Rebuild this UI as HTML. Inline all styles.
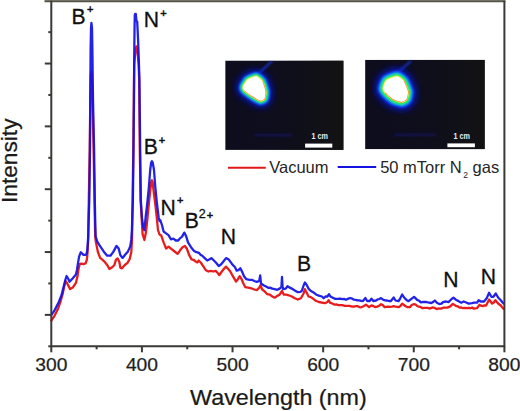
<!DOCTYPE html>
<html><head><meta charset="utf-8"><style>
html,body{margin:0;padding:0;background:#fff;}
svg{display:block;font-family:"Liberation Sans",sans-serif;}
</style></head><body>
<svg width="520" height="411" viewBox="0 0 520 411">
<rect width="520" height="411" fill="#fff"/>
<defs>
<filter id="bl4" x="-50%" y="-50%" width="200%" height="200%"><feGaussianBlur stdDeviation="3.5"/></filter>
<filter id="bl2" x="-50%" y="-50%" width="200%" height="200%"><feGaussianBlur stdDeviation="1.6"/></filter>
<filter id="bl1" x="-50%" y="-50%" width="200%" height="200%"><feGaussianBlur stdDeviation="0.8"/></filter>
<filter id="bl05" x="-50%" y="-50%" width="200%" height="200%"><feGaussianBlur stdDeviation="0.5"/></filter>
<linearGradient id="bgg" x1="0" x2="1" y1="0" y2="0"><stop offset="0" stop-color="#0c0c20" stop-opacity="0"/><stop offset="0.5" stop-color="#111118" stop-opacity="0.3"/><stop offset="1" stop-color="#131313" stop-opacity="1"/></linearGradient>
<clipPath id="c1"><rect x="225.2" y="60.5" width="118.4" height="89.4"/></clipPath>
<clipPath id="c2"><rect x="365.1" y="59.8" width="119.7" height="89.5"/></clipPath>
</defs>
<g clip-path="url(#c1)">
<rect x="225.2" y="60.5" width="118.4" height="89.4" fill="#0d0d1d"/>
<rect x="225.2" y="60.5" width="118.4" height="89.4" fill="url(#bgg)"/>
<rect x="254" y="134.0" width="38" height="2.4" fill="#1c1ca0" filter="url(#bl1)" opacity="0.4"/>
<line x1="257" y1="75" x2="272" y2="61" stroke="#2040ff" stroke-width="2" filter="url(#bl1)" opacity="0.75"/>
<path d="M256.4,76.6 C257.7,76.8 261.5,80.3 262.3,81.6 C263.1,82.9 265.3,89.8 265.5,91.4 C265.7,93.0 265.0,98.0 264.5,98.8 C264.0,99.6 261.4,100.8 260.3,100.6 C259.2,100.4 253.9,97.1 252.5,96.2 C251.1,95.3 245.3,91.3 244.5,90.4 C243.7,89.5 243.2,87.5 243.5,86.5 C243.8,85.5 246.5,80.8 247.7,79.9 C248.9,79.0 255.1,76.4 256.4,76.6Z" fill="#0818e0" stroke="#0818e0" stroke-width="14.0" stroke-linejoin="round" filter="url(#bl4)" opacity="0.8"/>
<path d="M256.4,76.6 C257.7,76.8 261.5,80.3 262.3,81.6 C263.1,82.9 265.3,89.8 265.5,91.4 C265.7,93.0 265.0,98.0 264.5,98.8 C264.0,99.6 261.4,100.8 260.3,100.6 C259.2,100.4 253.9,97.1 252.5,96.2 C251.1,95.3 245.3,91.3 244.5,90.4 C243.7,89.5 243.2,87.5 243.5,86.5 C243.8,85.5 246.5,80.8 247.7,79.9 C248.9,79.0 255.1,76.4 256.4,76.6Z" fill="#1040ff" stroke="#1040ff" stroke-width="9.5" stroke-linejoin="round" filter="url(#bl1)"/>
<path d="M256.4,76.6 C257.7,76.8 261.5,80.3 262.3,81.6 C263.1,82.9 265.3,89.8 265.5,91.4 C265.7,93.0 265.0,98.0 264.5,98.8 C264.0,99.6 261.4,100.8 260.3,100.6 C259.2,100.4 253.9,97.1 252.5,96.2 C251.1,95.3 245.3,91.3 244.5,90.4 C243.7,89.5 243.2,87.5 243.5,86.5 C243.8,85.5 246.5,80.8 247.7,79.9 C248.9,79.0 255.1,76.4 256.4,76.6Z" fill="#10c8e8" stroke="#10c8e8" stroke-width="6.5" stroke-linejoin="round" filter="url(#bl1)"/>
<path d="M256.4,76.6 C257.7,76.8 261.5,80.3 262.3,81.6 C263.1,82.9 265.3,89.8 265.5,91.4 C265.7,93.0 265.0,98.0 264.5,98.8 C264.0,99.6 261.4,100.8 260.3,100.6 C259.2,100.4 253.9,97.1 252.5,96.2 C251.1,95.3 245.3,91.3 244.5,90.4 C243.7,89.5 243.2,87.5 243.5,86.5 C243.8,85.5 246.5,80.8 247.7,79.9 C248.9,79.0 255.1,76.4 256.4,76.6Z" fill="#38f040" stroke="#38f040" stroke-width="4.2" stroke-linejoin="round" filter="url(#bl1)"/>
<path d="M256.4,76.6 C257.7,76.8 261.5,80.3 262.3,81.6 C263.1,82.9 265.3,89.8 265.5,91.4 C265.7,93.0 265.0,98.0 264.5,98.8 C264.0,99.6 261.4,100.8 260.3,100.6 C259.2,100.4 253.9,97.1 252.5,96.2 C251.1,95.3 245.3,91.3 244.5,90.4 C243.7,89.5 243.2,87.5 243.5,86.5 C243.8,85.5 246.5,80.8 247.7,79.9 C248.9,79.0 255.1,76.4 256.4,76.6Z" fill="#e8f060" stroke="#e8f060" stroke-width="2.2" stroke-linejoin="round" filter="url(#bl05)"/>
<path d="M262.3,81.6 L265.5,91.4 L264.5,98.8 L260.3,100.6 L252.5,96.2 L244.5,90.4" fill="none" stroke="#f07020" stroke-width="1.6" stroke-linejoin="round" filter="url(#bl05)" opacity="0.9"/>
<path d="M256.4,76.6 C257.7,76.8 261.5,80.3 262.3,81.6 C263.1,82.9 265.3,89.8 265.5,91.4 C265.7,93.0 265.0,98.0 264.5,98.8 C264.0,99.6 261.4,100.8 260.3,100.6 C259.2,100.4 253.9,97.1 252.5,96.2 C251.1,95.3 245.3,91.3 244.5,90.4 C243.7,89.5 243.2,87.5 243.5,86.5 C243.8,85.5 246.5,80.8 247.7,79.9 C248.9,79.0 255.1,76.4 256.4,76.6Z" fill="#ffffff" filter="url(#bl05)"/>
<rect x="305.1" y="143.6" width="27.2" height="4" fill="#fff"/>
<text x="311.4" y="138.70000000000002" font-size="8.6" font-weight="bold" fill="#ececec" textLength="16.4" lengthAdjust="spacingAndGlyphs">1 cm</text>
</g>
<g clip-path="url(#c2)">
<rect x="365.1" y="59.8" width="119.7" height="89.5" fill="#0d0d1d"/>
<rect x="365.1" y="59.8" width="119.7" height="89.5" fill="url(#bgg)"/>
<rect x="394" y="133.60000000000002" width="42" height="2.4" fill="#1c1ca0" filter="url(#bl1)" opacity="0.4"/>
<line x1="396" y1="74" x2="411" y2="61" stroke="#2040ff" stroke-width="2" filter="url(#bl1)" opacity="0.75"/>
<path d="M397.0,76.5 C398.6,76.6 402.7,79.9 403.7,81.3 C404.7,82.7 407.7,89.9 408.0,91.5 C408.3,93.1 407.1,98.4 406.5,99.3 C405.9,100.2 402.8,101.9 401.6,101.9 C400.4,101.9 394.9,100.2 393.4,99.3 C391.9,98.4 386.3,93.4 385.4,92.4 C384.5,91.4 383.3,89.5 383.4,88.4 C383.5,87.3 385.3,81.7 386.5,80.6 C387.7,79.5 395.4,76.4 397.0,76.5Z" fill="#0818e0" stroke="#0818e0" stroke-width="17.5" stroke-linejoin="round" filter="url(#bl4)" opacity="0.8"/>
<path d="M397.0,76.5 C398.6,76.6 402.7,79.9 403.7,81.3 C404.7,82.7 407.7,89.9 408.0,91.5 C408.3,93.1 407.1,98.4 406.5,99.3 C405.9,100.2 402.8,101.9 401.6,101.9 C400.4,101.9 394.9,100.2 393.4,99.3 C391.9,98.4 386.3,93.4 385.4,92.4 C384.5,91.4 383.3,89.5 383.4,88.4 C383.5,87.3 385.3,81.7 386.5,80.6 C387.7,79.5 395.4,76.4 397.0,76.5Z" fill="#1040ff" stroke="#1040ff" stroke-width="11.9" stroke-linejoin="round" filter="url(#bl1)"/>
<path d="M397.0,76.5 C398.6,76.6 402.7,79.9 403.7,81.3 C404.7,82.7 407.7,89.9 408.0,91.5 C408.3,93.1 407.1,98.4 406.5,99.3 C405.9,100.2 402.8,101.9 401.6,101.9 C400.4,101.9 394.9,100.2 393.4,99.3 C391.9,98.4 386.3,93.4 385.4,92.4 C384.5,91.4 383.3,89.5 383.4,88.4 C383.5,87.3 385.3,81.7 386.5,80.6 C387.7,79.5 395.4,76.4 397.0,76.5Z" fill="#10c8e8" stroke="#10c8e8" stroke-width="8.1" stroke-linejoin="round" filter="url(#bl1)"/>
<path d="M397.0,76.5 C398.6,76.6 402.7,79.9 403.7,81.3 C404.7,82.7 407.7,89.9 408.0,91.5 C408.3,93.1 407.1,98.4 406.5,99.3 C405.9,100.2 402.8,101.9 401.6,101.9 C400.4,101.9 394.9,100.2 393.4,99.3 C391.9,98.4 386.3,93.4 385.4,92.4 C384.5,91.4 383.3,89.5 383.4,88.4 C383.5,87.3 385.3,81.7 386.5,80.6 C387.7,79.5 395.4,76.4 397.0,76.5Z" fill="#38f040" stroke="#38f040" stroke-width="5.2" stroke-linejoin="round" filter="url(#bl1)"/>
<path d="M397.0,76.5 C398.6,76.6 402.7,79.9 403.7,81.3 C404.7,82.7 407.7,89.9 408.0,91.5 C408.3,93.1 407.1,98.4 406.5,99.3 C405.9,100.2 402.8,101.9 401.6,101.9 C400.4,101.9 394.9,100.2 393.4,99.3 C391.9,98.4 386.3,93.4 385.4,92.4 C384.5,91.4 383.3,89.5 383.4,88.4 C383.5,87.3 385.3,81.7 386.5,80.6 C387.7,79.5 395.4,76.4 397.0,76.5Z" fill="#e8f060" stroke="#e8f060" stroke-width="2.2" stroke-linejoin="round" filter="url(#bl05)"/>
<path d="M403.7,81.3 L408.0,91.5 L406.5,99.3 L401.6,101.9 L393.4,99.3 L385.4,92.4" fill="none" stroke="#f07020" stroke-width="1.6" stroke-linejoin="round" filter="url(#bl05)" opacity="0.9"/>
<path d="M397.0,76.5 C398.6,76.6 402.7,79.9 403.7,81.3 C404.7,82.7 407.7,89.9 408.0,91.5 C408.3,93.1 407.1,98.4 406.5,99.3 C405.9,100.2 402.8,101.9 401.6,101.9 C400.4,101.9 394.9,100.2 393.4,99.3 C391.9,98.4 386.3,93.4 385.4,92.4 C384.5,91.4 383.3,89.5 383.4,88.4 C383.5,87.3 385.3,81.7 386.5,80.6 C387.7,79.5 395.4,76.4 397.0,76.5Z" fill="#ffffff" filter="url(#bl05)"/>
<rect x="447.4" y="143.4" width="27.5" height="3.8" fill="#fff"/>
<text x="453.4" y="138.70000000000002" font-size="8.6" font-weight="bold" fill="#ececec" textLength="16.4" lengthAdjust="spacingAndGlyphs">1 cm</text>
</g>
<polyline points="51.3,320.6 54.4,316.1 57.7,309.6 60.4,301.9 62.6,294.2 64.2,286.6 65.5,281.2 66.4,282.0 68.5,286.0 70.1,289.1 73.1,287.2 75.9,282.9 77.5,276.3 78.6,268.6 79.7,264.2 81.3,263.7 83.5,264.2 85.7,263.1 86.8,259.9 87.4,254.4 88.2,240.0 88.8,200.0 89.7,150.0 90.3,100.0 90.8,76.0 91.2,72.0 91.8,76.0 92.6,100.0 93.6,150.0 94.5,200.0 95.2,236.0 95.7,241.0 97.9,251.9 100.1,257.9 102.9,260.1 105.0,262.3 107.2,265.0 109.4,268.9 112.2,267.2 114.4,265.0 116.0,259.6 117.6,258.5 119.3,261.8 120.4,267.8 122.0,268.3 124.8,265.0 127.5,262.9 129.7,259.0 131.3,251.9 132.0,240.0 132.6,200.0 133.3,150.0 133.8,100.0 134.2,65.0 135.3,52.0 136.4,46.5 137.5,52.0 138.7,65.0 139.2,80.0 139.8,150.0 140.6,200.0 142.0,224.3 142.6,234.1 144.4,240.0 146.0,232.0 147.5,218.0 148.8,204.0 150.3,190.0 151.2,182.0 151.9,180.2 152.6,182.0 153.5,190.0 155.3,204.0 156.8,218.0 158.0,230.0 159.5,234.5 161.3,235.6 163.6,242.4 166.1,248.5 168.5,246.6 171.6,249.1 174.6,251.5 177.6,253.9 180.1,250.3 182.5,247.2 184.9,246.0 186.8,248.5 189.2,255.1 191.6,259.4 193.4,259.8 195.3,261.2 197.4,262.4 198.6,260.5 201.1,263.0 203.5,266.6 206.0,270.3 208.4,271.5 210.8,270.9 213.2,271.5 215.7,270.9 217.5,272.7 219.3,275.1 221.8,271.5 224.2,268.5 226.0,266.6 227.8,268.5 230.3,271.5 231.8,274.3 233.6,277.4 236.1,281.6 237.9,279.2 239.7,276.2 241.6,279.2 243.4,283.5 245.2,287.1 248.2,287.7 251.3,288.3 254.3,289.5 256.8,290.1 259.2,287.7 260.4,285.3 262.2,289.5 264.7,291.4 267.1,294.1 269.9,294.7 272.3,296.5 274.7,297.7 277.2,295.9 279.6,294.7 282.0,291.0 283.9,294.7 286.3,294.7 288.7,295.3 291.8,296.5 294.8,298.3 297.8,299.5 300.9,298.3 303.6,293.5 304.9,289.2 306.7,292.8 308.5,296.5 310.9,297.1 313.4,298.9 315.8,300.8 318.9,302.0 321.9,302.6 324.9,303.2 327.4,302.0 328.6,300.1 329.8,302.6 332.8,303.8 334.6,304.6 336.5,304.4 338.2,305.2 340.0,305.2 342.4,305.2 344.7,305.9 346.3,305.9 348.0,305.8 349.6,305.9 351.2,306.3 352.9,306.7 354.5,306.5 356.1,306.1 357.7,306.2 359.3,307.1 361.1,307.3 363.0,306.5 366.0,304.7 369.1,307.1 371.5,305.3 373.2,306.1 375.0,307.1 377.3,306.6 379.1,305.8 381.0,304.2 382.8,305.0 384.6,307.2 386.4,306.8 388.2,306.6 390.0,306.9 391.9,306.6 393.7,306.2 395.5,306.6 398.6,307.2 400.4,306.0 402.2,303.6 405.3,306.0 407.6,307.2 409.9,307.2 411.7,305.0 413.5,304.2 415.4,304.4 417.2,306.0 419.0,306.7 420.8,307.2 422.6,308.1 424.5,307.8 426.1,307.9 427.7,307.9 429.3,308.5 430.9,308.2 432.6,307.4 434.2,307.8 436.6,309.1 438.2,308.5 439.9,308.6 441.5,308.5 443.6,307.6 445.5,307.6 447.3,307.6 450.3,306.4 452.8,303.9 455.8,305.8 457.6,306.3 459.5,307.6 461.3,307.5 463.1,308.2 464.9,307.8 466.8,308.1 468.6,307.9 470.4,308.2 472.1,307.5 473.8,308.7 475.4,308.3 477.1,308.2 479.4,304.8 481.0,305.7 482.7,306.2 484.4,305.4 486.1,305.5 489.1,299.5 492.1,303.5 493.8,302.5 495.4,300.2 498.1,303.5 500.8,305.5 503.5,308.9" fill="none" stroke="#e81c1c" stroke-width="2.3" stroke-linejoin="round" stroke-linecap="round"/>
<polyline points="51.3,315.2 55.0,309.6 58.8,301.9 61.5,295.3 63.7,286.6 65.3,280.0 66.6,276.0 68.2,278.8 69.5,281.8 72.6,278.5 75.9,274.6 77.0,269.7 78.0,263.1 79.1,256.6 80.8,252.2 83.5,254.9 85.5,254.8 86.3,254.4 87.2,251.0 87.7,244.6 88.2,236.0 88.5,225.0 89.3,200.0 90.0,150.0 90.3,100.0 90.6,50.0 91.0,28.0 91.4,23.0 92.0,28.0 92.4,50.0 93.0,100.0 94.1,150.0 94.8,200.0 95.3,225.0 95.7,236.6 97.4,242.0 99.6,245.3 101.8,248.6 104.0,251.9 107.2,255.7 110.5,255.7 113.3,251.9 116.5,245.9 118.7,248.6 120.4,255.2 122.6,257.9 125.3,254.6 128.0,251.4 130.2,246.4 131.3,239.9 131.9,230.0 132.9,200.0 133.5,150.0 134.0,100.0 134.2,60.0 134.4,40.0 134.6,25.0 134.8,15.0 135.1,14.0 135.8,14.0 136.4,20.5 137.2,21.6 137.6,30.0 138.1,40.0 138.8,60.0 139.4,80.0 140.2,150.0 140.8,200.0 142.0,218.2 143.2,226.8 144.4,230.2 145.6,217.7 147.2,204.0 148.9,187.0 150.2,170.0 151.2,162.5 151.9,161.2 152.7,162.5 154.0,170.0 155.3,187.0 157.0,204.0 158.7,217.7 159.6,221.0 160.4,220.3 162.1,225.5 163.6,231.5 166.1,233.4 168.5,235.1 170.9,239.3 173.4,238.7 175.8,240.5 178.2,240.5 180.1,238.1 181.9,236.9 184.3,232.6 186.2,236.3 188.0,242.4 191.0,247.2 194.1,250.9 196.5,252.2 198.9,252.8 200.6,254.9 202.3,255.7 204.7,258.1 207.2,260.5 209.6,259.3 211.4,258.1 213.9,260.5 216.3,263.0 218.7,266.0 221.2,264.2 223.6,261.2 226.0,258.1 228.5,259.3 230.9,262.4 232.4,264.6 234.9,267.0 236.7,270.7 238.5,270.1 240.3,268.2 242.2,271.9 244.0,276.2 246.4,279.2 249.5,279.8 251.9,279.8 254.3,281.0 256.8,281.9 259.2,281.0 260.2,275.5 261.0,283.5 263.5,285.3 266.5,286.8 268.2,287.8 269.9,287.6 272.3,288.6 274.7,289.2 277.2,289.8 279.6,288.6 281.4,287.0 282.0,277.0 282.6,287.0 283.2,289.2 285.7,288.6 287.5,286.2 289.3,287.4 291.8,288.6 294.8,290.4 297.8,292.2 300.4,291.8 301.8,291.0 303.6,285.5 304.9,282.5 306.7,284.9 308.5,288.6 310.9,291.0 314.0,292.8 316.4,294.7 319.5,295.9 321.9,296.5 323.7,298.3 325.5,296.5 327.4,296.5 329.0,294.1 330.4,296.5 332.8,297.7 335.3,298.9 337.7,298.9 340.0,298.6 342.3,299.2 344.1,298.9 345.9,299.8 348.4,298.6 350.2,298.0 352.0,298.6 353.9,299.7 355.7,299.8 357.5,300.4 359.3,300.4 361.1,300.9 363.0,301.0 365.4,298.0 367.2,301.0 369.7,301.0 371.5,298.6 373.3,301.0 376.1,300.5 377.7,299.4 379.4,299.0 381.0,298.1 383.4,299.9 385.2,300.3 387.0,300.5 388.9,301.0 390.7,301.2 393.7,297.5 395.5,300.5 398.6,301.2 400.4,298.1 402.2,294.5 404.1,297.5 406.5,299.9 408.6,301.2 411.7,298.7 414.1,296.9 417.2,299.9 419.0,300.7 420.8,302.4 422.6,302.0 424.5,301.8 426.3,302.0 428.1,302.4 431.2,303.0 433.0,302.1 434.8,300.5 437.2,303.0 439.4,304.0 441.5,303.6 443.0,302.1 446.1,301.5 448.5,302.1 450.9,299.7 453.4,297.6 455.8,299.7 458.2,300.9 461.3,302.7 463.7,301.5 466.8,302.7 468.6,303.6 470.4,303.3 472.2,303.1 474.1,302.7 477.1,302.7 478.7,300.2 480.7,301.5 482.4,301.4 484.0,301.5 486.7,298.2 489.1,292.8 491.4,296.8 493.4,296.8 495.8,293.5 498.1,297.5 500.8,300.2 503.5,303.5" fill="none" stroke="#1010e6" stroke-width="2.3" stroke-linejoin="round" stroke-linecap="round" opacity="0.92"/>
<rect x="44.5" y="0" width="460.9" height="1" fill="#707064"/><rect x="44.5" y="1" width="460.9" height="1" fill="#55554c"/><rect x="44.5" y="2" width="460.9" height="1" fill="#d4d4cc"/><path d="M51.3,0.7 V346.3 H504.4 V0.7" fill="none" stroke="#393936" stroke-width="2"/><line x1="51.30" y1="346.3" x2="51.30" y2="352.3" stroke="#393936" stroke-width="2"/><text transform="translate(51.30,371.1) scale(1.035,1)" font-size="18.6" text-anchor="middle" fill="#1e1e1e" stroke="#1e1e1e" stroke-width="0.25">300</text><line x1="96.61" y1="346.3" x2="96.61" y2="349.3" stroke="#393936" stroke-width="2"/><line x1="141.92" y1="346.3" x2="141.92" y2="352.3" stroke="#393936" stroke-width="2"/><text transform="translate(141.92,371.1) scale(1.035,1)" font-size="18.6" text-anchor="middle" fill="#1e1e1e" stroke="#1e1e1e" stroke-width="0.25">400</text><line x1="187.23" y1="346.3" x2="187.23" y2="349.3" stroke="#393936" stroke-width="2"/><line x1="232.54" y1="346.3" x2="232.54" y2="352.3" stroke="#393936" stroke-width="2"/><text transform="translate(232.54,371.1) scale(1.035,1)" font-size="18.6" text-anchor="middle" fill="#1e1e1e" stroke="#1e1e1e" stroke-width="0.25">500</text><line x1="277.85" y1="346.3" x2="277.85" y2="349.3" stroke="#393936" stroke-width="2"/><line x1="323.16" y1="346.3" x2="323.16" y2="352.3" stroke="#393936" stroke-width="2"/><text transform="translate(323.16,371.1) scale(1.035,1)" font-size="18.6" text-anchor="middle" fill="#1e1e1e" stroke="#1e1e1e" stroke-width="0.25">600</text><line x1="368.47" y1="346.3" x2="368.47" y2="349.3" stroke="#393936" stroke-width="2"/><line x1="413.78" y1="346.3" x2="413.78" y2="352.3" stroke="#393936" stroke-width="2"/><text transform="translate(413.78,371.1) scale(1.035,1)" font-size="18.6" text-anchor="middle" fill="#1e1e1e" stroke="#1e1e1e" stroke-width="0.25">700</text><line x1="459.09" y1="346.3" x2="459.09" y2="349.3" stroke="#393936" stroke-width="2"/><line x1="504.40" y1="346.3" x2="504.40" y2="352.3" stroke="#393936" stroke-width="2"/><text transform="translate(504.40,371.1) scale(1.035,1)" font-size="18.6" text-anchor="middle" fill="#1e1e1e" stroke="#1e1e1e" stroke-width="0.25">800</text><line x1="51.3" y1="32.12" x2="48.3" y2="32.12" stroke="#393936" stroke-width="2"/><line x1="51.3" y1="63.54" x2="44.8" y2="63.54" stroke="#393936" stroke-width="2"/><line x1="51.3" y1="94.95" x2="48.3" y2="94.95" stroke="#393936" stroke-width="2"/><line x1="51.3" y1="126.37" x2="44.8" y2="126.37" stroke="#393936" stroke-width="2"/><line x1="51.3" y1="157.79" x2="48.3" y2="157.79" stroke="#393936" stroke-width="2"/><line x1="51.3" y1="189.21" x2="44.8" y2="189.21" stroke="#393936" stroke-width="2"/><line x1="51.3" y1="220.63" x2="48.3" y2="220.63" stroke="#393936" stroke-width="2"/><line x1="51.3" y1="252.05" x2="44.8" y2="252.05" stroke="#393936" stroke-width="2"/><line x1="51.3" y1="283.46" x2="48.3" y2="283.46" stroke="#393936" stroke-width="2"/><line x1="51.3" y1="314.88" x2="44.8" y2="314.88" stroke="#393936" stroke-width="2"/><line x1="51.3" y1="346.30" x2="48.3" y2="346.30" stroke="#393936" stroke-width="2"/><text transform="translate(190.1,405.1) scale(1.075,1)" font-size="21.7" fill="#1a1a1a" stroke="#1a1a1a" stroke-width="0.25">Wavelength (nm)</text><text transform="translate(17.3,203) rotate(-90)" x="0" y="0" font-size="22.7" fill="#1a1a1a" stroke="#1a1a1a" stroke-width="0.25">Intensity</text>

<g font-size="22.5" fill="#111" stroke="#111" stroke-width="0.3">
<text transform="translate(78.55,23.8) scale(0.94,1)" text-anchor="middle">B</text>
<text transform="translate(151.3,26.7) scale(0.94,1)" text-anchor="middle">N</text>
<text transform="translate(150.85,153.8) scale(0.94,1)" text-anchor="middle">B</text>
<text transform="translate(168.05,214.6) scale(0.94,1)" text-anchor="middle">N</text>
<text transform="translate(191.7,228.1) scale(0.94,1)" text-anchor="middle">B</text>
<text transform="translate(228.5,243.7) scale(0.94,1)" text-anchor="middle">N</text>
<text transform="translate(304.05,271.0) scale(0.94,1)" text-anchor="middle">B</text>
<text transform="translate(450.95,287.1) scale(0.94,1)" text-anchor="middle">N</text>
<text transform="translate(488.4,283.7) scale(0.94,1)" text-anchor="middle">N</text>
<text x="87.0" y="13.0" font-size="11" stroke-width="0.5">+</text>
<text x="160.3" y="16.8" font-size="11" stroke-width="0.5">+</text>
<text x="158.8" y="144.1" font-size="11" stroke-width="0.5">+</text>
<text x="177.0" y="204.3" font-size="11" stroke-width="0.5">+</text>
<text x="198.7" y="217.8" font-size="12.5">2</text><text x="206.8" y="218.6" font-size="11" stroke-width="0.5">+</text>




</g>
<g font-size="16.5" fill="#262626">
<line x1="228" y1="167.8" x2="265.8" y2="167.8" stroke="#e01818" stroke-width="2"/>
<text x="269.2" y="172.8">Vacuum</text>
<line x1="337.7" y1="166.9" x2="376.2" y2="166.9" stroke="#1414e0" stroke-width="2"/>
<text x="380.2" y="172.8">50 mTorr N<tspan font-size="8.5" dx="1.5" dy="5.3">2</tspan><tspan dy="-5.3"> gas</tspan></text>
</g>

</svg>
</body></html>
